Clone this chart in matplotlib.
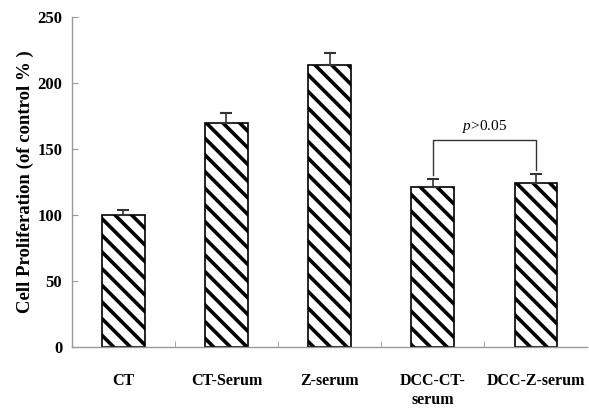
import matplotlib
matplotlib.use("Agg")
import matplotlib.pyplot as plt
import numpy as np

categories = ["CT", "CT-Serum", "Z-serum", "DCC-CT-\nserum", "DCC-Z-serum"]
values = [100, 170, 214, 121, 124]
errors = [4, 7, 9, 6, 7]
yticks = [0, 50, 100, 150, 200, 250]

plt.rcParams['font.family'] = ['Liberation Serif', 'DejaVu Serif']
plt.rcParams['hatch.linewidth'] = 2.6
plt.rcParams['mathtext.fontset'] = 'custom'
plt.rcParams['mathtext.it'] = 'Liberation Serif:italic'
plt.rcParams['mathtext.rm'] = 'Liberation Serif'

fig = plt.figure(figsize=(5.89, 4.09), dpi=100)
ax = fig.add_axes([0.122, 0.152, 0.875, 0.806])

x = np.arange(len(categories))
ax.bar(x, values, width=0.41, color='white', edgecolor='black', linewidth=1.2,
       hatch='\\\\', zorder=2)
ax.errorbar(x, values, yerr=[np.zeros(len(values)), errors], fmt='none',
            ecolor='#333333', elinewidth=1.2, capsize=4, capthick=1.5, zorder=3)

ax.set_xlim(-0.5, len(categories) - 0.5)
ax.set_ylim(0, 250)
ax.set_yticks(yticks)
ax.set_yticklabels([str(t) for t in yticks], fontsize=12, fontweight='bold')
ax.set_xticks(x)
ax.set_xticklabels(categories, fontsize=11.5, fontweight='bold')
ax.tick_params(axis='x', length=0, pad=19)
ax.set_xticks(np.arange(0.5, len(categories) - 0.5, 1), minor=True)
ax.tick_params(axis='x', which='minor', direction='in', length=4, color='#999999')
ax.tick_params(axis='y', direction='in', length=4, color='#999999', pad=7)
for s in ['top', 'right']:
    ax.spines[s].set_visible(False)
for s in ['left', 'bottom']:
    ax.spines[s].set_color('#999999')
    ax.spines[s].set_linewidth(1.0)

ax.set_ylabel("Cell Proliferation (of control % )", fontsize=13.5, fontweight='bold', labelpad=2)

# significance bracket
i1, i2 = 3, 4
ytop = 157
ax.plot([i1, i1, i2, i2], [values[i1] + errors[i1] + 3, ytop, ytop, values[i2] + errors[i2] + 3],
        color='#333333', lw=1.0, zorder=3)
ax.text((i1 + i2) / 2, ytop + 4, r"$\mathit{p}$>0.05", ha='center', va='bottom', fontsize=11)

fig.savefig("out.png", dpi=100)
